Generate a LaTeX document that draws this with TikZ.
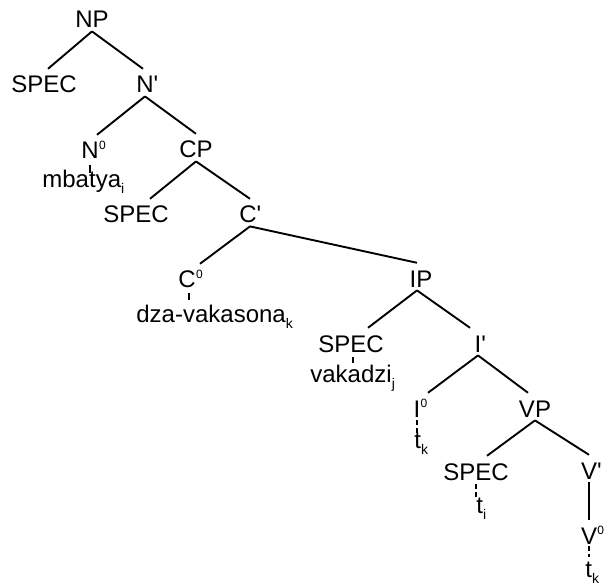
\documentclass[tikz,border=0pt]{standalone}
\usepackage{fontspec}
\setmainfont{Liberation Sans}
\newcommand{\labfont}{\fontsize{12}{14.4}\selectfont}
\newcommand{\pr}{\rlap{\textquotesingle}}
\newcommand{\zr}{\rlap{\kern0.2pt\raisebox{4.6pt}{\fontsize{6}{7}\selectfont 0}}}
\newcommand{\sbs}[1]{\raisebox{-3pt}{\fontsize{7}{8}\selectfont #1}}
\begin{document}
\begin{tikzpicture}[x=0.5pt,y=-0.5pt,
  cat/.style={font=\labfont, inner sep=0pt, text height=11.9pt, text depth=1.5pt, anchor=base},
  word/.style={font=\labfont, inner sep=0pt, anchor=base west},
  branch/.style={line width=0.95pt},
  tick/.style={line width=0.8pt},
  dtick/.style={line width=0.8pt, dash pattern=on 2.5pt off 1.5pt}]
\useasboundingbox (0,0) rectangle (605,588);
% nodes
\node[cat] (np) at (92,28) {NP};
\node[cat] (spec1) at (44,93) {SPEC};
\node[cat] (nbar) at (145,93) {N\pr};
\node[cat] (n0) at (90,159) {N\zr};
\node[cat] (cp) at (196,158) {CP};
\node[word] (mbatya) at (42,188) {mbatya\sbs{i}};
\node[cat] (spec2) at (136,223) {SPEC};
\node[cat] (cbar) at (248,223) {C\pr};
\node[cat] (c0) at (187,288) {C\zr};
\node[word] (dza) at (136,322) {dza-vakasona\sbs{k}};
\node[cat] (ip) at (421,287) {IP};
\node[cat] (spec3) at (351,352) {SPEC};
\node[cat] (ibar) at (478,352) {I\pr};
\node[word] (vakadzi) at (310,382) {vakadzi\sbs{j}};
\node[cat] (i0) at (417,417) {I\zr};
\node[cat] (vp) at (535,417) {VP};
\node[word] (tk1) at (414,448) {t\sbs{k}};
\node[cat] (spec4) at (476,480) {SPEC};
\node[cat] (vbar) at (589,479) {V\pr};
\node[word] (ti) at (476,513) {t\sbs{i}};
\node[cat] (v0) at (589,544) {V\zr};
\node[word] (tk2) at (585,577) {t\sbs{k}};
% branches
\draw[branch] (np.south) -- ([xshift=2pt]spec1.north);
\draw[branch] (np.south) -- ([xshift=-1pt]nbar.north);
\draw[branch] (nbar.south) -- ([xshift=3.5pt]n0.north);
\draw[branch] (nbar.south) -- (cp.north);
\draw[branch] (cp.south) -- ([xshift=7pt]spec2.north);
\draw[branch] (cp.south) -- ([xshift=1pt]cbar.north);
\draw[branch] ([xshift=1pt]cbar.south) -- ([xshift=6.5pt]c0.north);
\draw[branch] ([xshift=1pt]cbar.south) -- ([xshift=-2pt]ip.north);
\draw[branch] ([xshift=-2pt]ip.south) -- ([xshift=8.5pt]spec3.north);
\draw[branch] ([xshift=-2pt]ip.south) -- ([xshift=-4pt]ibar.north);
\draw[branch] (ibar.south) -- ([xshift=5.5pt]i0.north);
\draw[branch] (ibar.south) -- ([xshift=-3.5pt]vp.north);
\draw[branch] (vp.south) -- ([xshift=5.5pt]spec4.north);
\draw[branch] (vp.south) -- (vbar.north);
\draw[branch] (vbar.south) -- (v0.north);
% ticks to the words below
\draw[tick] ([yshift=-3pt]n0.base) -- ([yshift=-7pt]n0.base);
\draw[tick] ([xshift=1pt,yshift=-2.5pt]c0.base) -- ([xshift=1pt,yshift=-6pt]c0.base);
\draw[tick] ([xshift=1pt,yshift=-2.5pt]spec3.base) -- ([xshift=1pt,yshift=-5.5pt]spec3.base);
\draw[dtick] ([yshift=-1.5pt]i0.base) -- ([yshift=-10.5pt]i0.base);
\draw[dtick] ([yshift=-2pt]spec4.base) -- ([yshift=-9pt]spec4.base);
\draw[dtick] ([yshift=-1pt]v0.base) -- ([yshift=-6.5pt]v0.base);
\end{tikzpicture}
\end{document}
